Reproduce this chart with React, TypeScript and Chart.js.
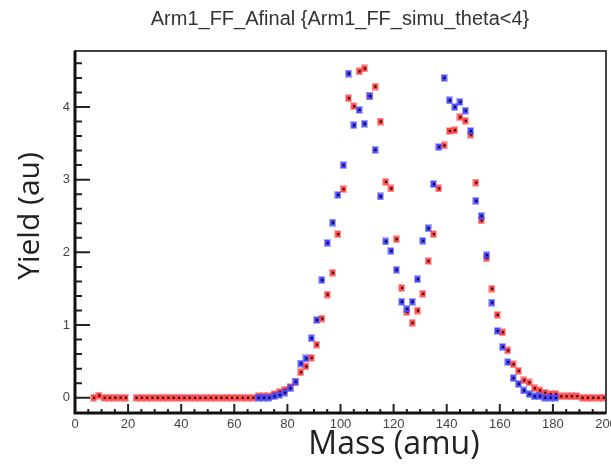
import React, { useEffect, useRef } from 'react';
import { Chart, registerables } from 'chart.js';

Chart.register(...registerables);

const chartTitle = 'Arm1_FF_Afinal {Arm1_FF_simu_theta<4}';
const xAxisTitle = 'Mass (amu)';
const yAxisTitle = 'Yield (au)';

const xTickValues = [0, 20, 40, 60, 80, 100, 120, 140, 160, 180, 200];
const yTickValues = [0, 1, 2, 3, 4];

// bin centres (2 amu bins)
const massBins = [
  1, 3, 5, 7, 9, 11, 13, 15, 17, 19,
  21, 23, 25, 27, 29, 31, 33, 35, 37, 39,
  41, 43, 45, 47, 49, 51, 53, 55, 57, 59,
  61, 63, 65, 67, 69, 71, 73, 75, 77, 79,
  81, 83, 85, 87, 89, 91, 93, 95, 97, 99,
  101, 103, 105, 107, 109, 111, 113, 115, 117, 119,
  121, 123, 125, 127, 129, 131, 133, 135, 137, 139,
  141, 143, 145, 147, 149, 151, 153, 155, 157, 159,
  161, 163, 165, 167, 169, 171, 173, 175, 177, 179,
  181, 183, 185, 187, 189, 191, 193, 195, 197, 199,
];

// red series
const redYield: (number | null)[] = [
  null, null, null, 0, 0.03, 0, 0, 0, 0, 0,
  null, 0, 0, 0, 0, 0, 0, 0, 0, 0,
  0, 0, 0, 0, 0, 0, 0, 0, 0, 0,
  0, 0, 0, 0, 0.02, 0.02, 0.02, 0.05, 0.08, 0.11,
  0.15, 0.22, 0.35, 0.43, 0.55, 0.73, 1.09, 1.42, 1.72, 2.25,
  2.87, 4.12, 4.01, 4.49, 4.53, 4.15, 4.28, 3.80, 2.97, 2.88,
  2.18, 1.51, 1.18, 1.03, 1.20, 1.43, 1.88, 2.25, 2.88, 3.47,
  3.67, 3.68, 3.86, 3.81, 3.62, 2.96, 2.44, 1.92, 1.50, 1.14,
  0.90, 0.65, 0.46, 0.37, 0.24, 0.21, 0.13, 0.10, 0.07, 0.05,
  0.05, 0.02, 0.02, 0.02, 0.02, 0, 0, 0, 0, 0,
];

// blue series
const blueYield: (number | null)[] = [
  null, null, null, null, null, null, null, null, null, null,
  null, null, null, null, null, null, null, null, null, null,
  null, null, null, null, null, null, null, null, null, null,
  null, null, null, null, 0, 0, 0, 0.02, 0.04, 0.07,
  0.13, 0.22, 0.47, 0.54, 0.82, 1.07, 1.62, 2.13, 2.41, 2.79,
  3.20, 4.46, 3.75, 3.96, 3.77, 4.15, 3.41, 2.77, 2.15, 2.02,
  1.76, 1.32, 1.22, 1.32, 1.63, 2.16, 2.33, 2.94, 3.45, 4.40,
  4.09, 4.00, 4.07, 3.95, 3.67, 2.71, 2.50, 1.96, 1.31, 0.92,
  0.70, 0.49, 0.27, 0.19, 0.10, 0.05, 0.02, 0.02, 0, 0,
  0, null, null, null, null, null, null, null, null, null,
];

function makeMarker(color: string): HTMLCanvasElement {
  const c = document.createElement('canvas');
  c.width = 7;
  c.height = 8;
  const g = c.getContext('2d')!;
  g.fillStyle = color;
  g.globalAlpha = 0.4;
  g.fillRect(0, 0, 7, 8);
  g.globalAlpha = 1;
  g.fillRect(1, 1, 5, 6);
  g.fillStyle = '#000';
  g.fillRect(3, 3, 2, 2);
  return c;
}

const decorPlugin = {
  id: 'rootDecor',
  afterDraw(chart: any) {
    const { ctx, chartArea: a, scales } = chart;
    const xs = scales.x;
    const ys = scales.y;
    ctx.save();
    // ticks (inward, ROOT style)
    ctx.strokeStyle = '#222';
    ctx.lineWidth = 2;
    ctx.beginPath();
    for (let v = 0; v <= 200; v += 5) {
      const px = xs.getPixelForValue(v);
      const len = v % 20 === 0 ? 9 : 4;
      ctx.moveTo(px, a.bottom);
      ctx.lineTo(px, a.bottom - len);
    }
    for (let k = -1; k <= 23; k++) {
      const v = k * 0.2;
      const py = ys.getPixelForValue(v);
      if (py < a.top + 1 || py > a.bottom - 1) continue;
      const len = k % 5 === 0 ? 15 : 7;
      ctx.moveTo(a.left, py);
      ctx.lineTo(a.left + len, py);
    }
    ctx.stroke();
    // frame
    ctx.strokeStyle = '#444';
    ctx.lineWidth = 2;
    ctx.strokeRect(a.left, a.top, a.right - a.left, a.bottom - a.top);
    ctx.strokeStyle = '#111';
    ctx.lineWidth = 3;
    ctx.beginPath();
    ctx.moveTo(a.left, a.top);
    ctx.lineTo(a.left, a.bottom);
    ctx.lineTo(a.right, a.bottom);
    ctx.stroke();

    // title
    ctx.fillStyle = '#333';
    ctx.font = '20px "Liberation Sans", Arial, sans-serif';
    ctx.textAlign = 'center';
    ctx.textBaseline = 'alphabetic';
    ctx.fillText(chartTitle, 340, 25);

    // axis titles
    ctx.fillStyle = '#222';
    ctx.font = '32px "Open Sans", sans-serif';
    ctx.textBaseline = 'middle';
    ctx.fillText(xAxisTitle, 394, 445);

    ctx.save();
    ctx.translate(30, 216);
    ctx.rotate(-Math.PI / 2);
    ctx.font = '30px "Open Sans", sans-serif';
    ctx.fillText(yAxisTitle, 0, 0);
    ctx.restore();

    ctx.restore();
  },
};

export default function App() {
  const canvasRef = useRef<HTMLCanvasElement | null>(null);

  useEffect(() => {
    const canvas = canvasRef.current;
    if (!canvas) return;
    const redPts = massBins
      .map((m, i) => ({ x: m, y: redYield[i] }))
      .filter((p) => p.y !== null);
    const bluePts = massBins
      .map((m, i) => ({ x: m, y: blueYield[i] }))
      .filter((p) => p.y !== null);

    const chart = new Chart(canvas, {
      type: 'scatter',
      data: {
        datasets: [
          {
            label: 'blue',
            data: bluePts as any,
            pointStyle: makeMarker('#4646ff') as any,
            pointRadius: 4,
          },
          {
            label: 'red',
            data: redPts as any,
            pointStyle: makeMarker('#ff4646') as any,
            pointRadius: 4,
          },
        ],
      },
      options: {
        responsive: false,
        animation: false,
        layout: { padding: { top: 51, right: 3, left: 0, bottom: 0 } },
        plugins: {
          legend: { display: false },
          tooltip: { enabled: false },
          title: { display: false },
        },
        scales: {
          x: {
            type: 'linear',
            min: 0,
            max: 200,
            grid: { display: false, drawTicks: false },
            border: { display: false },
            ticks: {
              padding: 4,
              color: '#444',
              font: { family: '"Liberation Sans", Arial, sans-serif', size: 13 },
              autoSkip: false,
              maxRotation: 0,
              callback: (v: any) => String(v),
            },
            afterBuildTicks: (s: any) => {
              s.ticks = xTickValues.map((v) => ({ value: v }));
            },
            afterFit: (s: any) => {
              s.height = 55;
              s.paddingLeft = 0;
              s.paddingRight = 0;
            },
          },
          y: {
            type: 'linear',
            min: -0.21,
            max: 4.77,
            grid: { display: false, drawTicks: false },
            border: { display: false },
            ticks: {
              padding: 5,
              color: '#444',
              font: { family: '"Liberation Sans", Arial, sans-serif', size: 13 },
              autoSkip: false,
              callback: (v: any) => String(v),
            },
            afterBuildTicks: (s: any) => {
              s.ticks = yTickValues.map((v) => ({ value: v }));
            },
            afterFit: (s: any) => {
              s.width = 75;
              s.paddingTop = 0;
              s.paddingBottom = 0;
            },
          },
        },
      },
      plugins: [decorPlugin],
    });
    return () => chart.destroy();
  }, []);

  return (
    <div style={{ position: 'absolute', left: 0, top: 0, width: 611, height: 468, background: '#fff' }}>
      <canvas ref={canvasRef} width={611} height={468} style={{ display: 'block' }} />
    </div>
  );
}
